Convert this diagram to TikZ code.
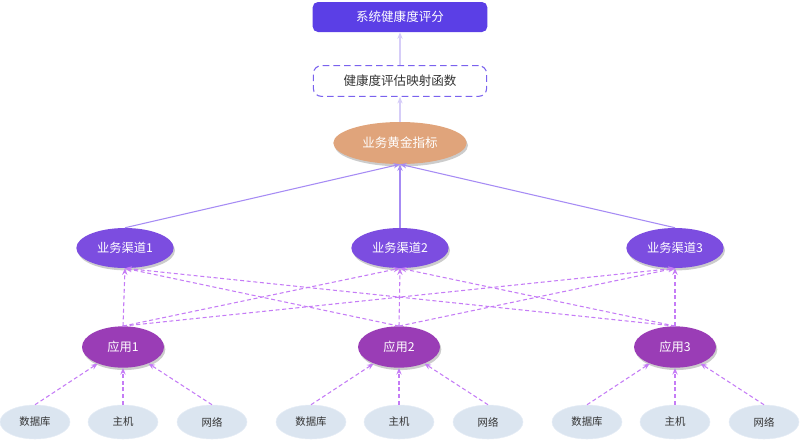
\documentclass[tikz,border=0pt]{standalone}
\usepackage{fontspec}
\newfontfamily\cjk{Noto Sans CJK SC}
\usepackage{tikz}
\usetikzlibrary{positioning,shapes,shadows,arrows.meta}

\definecolor{scoreviolet}{HTML}{5B3FE6}
\definecolor{chanviolet}{HTML}{7C4DE0}
\definecolor{apppurple}{HTML}{9A3DB6}
\definecolor{goldorange}{HTML}{E0A47B}
\definecolor{leafblue}{HTML}{DBE5F0}
\definecolor{leafedge}{HTML}{E6EDF6}
\definecolor{funcedge}{HTML}{7A62EE}
\definecolor{toparrow}{HTML}{D6CDF8}
\definecolor{solidarrow}{HTML}{A68BF4}
\definecolor{dasharrow}{HTML}{C57CF6}
\definecolor{darktext}{HTML}{333333}

\tikzset{
  scorebox/.style={fill=scoreviolet, rounded corners=4pt, minimum width=131pt, minimum height=22.5pt, text=white, font=\cjk\fontsize{9.4}{11}\selectfont},
  funcbox/.style={draw=funcedge, thick, dash pattern=on 5pt off 3pt, rounded corners=6pt, minimum width=130pt, minimum height=23pt, text=darktext, font=\cjk\fontsize{9.4}{11}\selectfont},
  goldnode/.style={ellipse, fill=goldorange, minimum width=100pt, minimum height=31.5pt, text=white, font=\cjk\fontsize{9.4}{11}\selectfont, drop shadow={shadow xshift=1pt, shadow yshift=-1.8pt, opacity=0.4}},
  channode/.style={ellipse, fill=chanviolet, minimum width=73pt, minimum height=30pt, text=white, font=\cjk\fontsize{9.2}{11}\selectfont, drop shadow={shadow xshift=1pt, shadow yshift=-1.8pt, opacity=0.4}},
  appnode/.style={ellipse, fill=apppurple, minimum width=61.5pt, minimum height=31pt, text=white, font=\cjk\fontsize{9.2}{11}\selectfont, drop shadow={shadow xshift=1pt, shadow yshift=-1.8pt, opacity=0.4}},
  leafnode/.style={ellipse, fill=leafblue, draw=leafedge, minimum width=52.5pt, minimum height=25.5pt, text=darktext, font=\cjk\fontsize{7.8}{9}\selectfont},
  uparrow/.style={draw=toparrow, thick, -{Stealth[length=5pt,width=4pt]}},
  goldarrow/.style={draw=solidarrow, thick, -{Stealth[length=5pt,width=4pt]}},
  linkarrow/.style={draw=dasharrow, thick, dash pattern=on 3pt off 2pt, -{Stealth[length=5pt,width=4pt]}}
}

\begin{document}
\begin{tikzpicture}[x=0.75pt, y=-0.75pt]
	\useasboundingbox (0,0) rectangle (800,440);
	% top of the tree
	\node[scorebox] (score) at (400, 17) {系统健康度评分};
	\node[funcbox] (func) at (400, 81) {健康度评估映射函数};
	\node[goldnode] (gold) at (400, 143) {业务黄金指标};
	% channels
	\node[channode] (c1) at (125, 248) {业务渠道1};
	\node[channode] (c2) at (400, 248) {业务渠道2};
	\node[channode] (c3) at (675, 248) {业务渠道3};
	% applications
	\node[appnode] (a1) at (123, 347) {应用1};
	\node[appnode] (a2) at (399, 347) {应用2};
	\node[appnode] (a3) at (675, 347) {应用3};
	% resources
	\node[leafnode] (d1) at (35, 422) {数据库};
	\node[leafnode] (h1) at (123, 422) {主机};
	\node[leafnode] (n1) at (212, 422) {网络};
	\node[leafnode] (d2) at (311, 422) {数据库};
	\node[leafnode] (h2) at (399, 422) {主机};
	\node[leafnode] (n2) at (488, 422) {网络};
	\node[leafnode] (d3) at (587, 422) {数据库};
	\node[leafnode] (h3) at (675, 422) {主机};
	\node[leafnode] (n3) at (764, 422) {网络};
	% arrows
	\draw[uparrow] (func.north) -- (score.south);
	\draw[uparrow] (gold.north) -- (func.south);
	\draw[goldarrow] (c1.north) -- (gold.south);
	\draw[goldarrow] (c2.north) -- (gold.south);
	\draw[goldarrow] (c3.north) -- (gold.south);
	\draw[linkarrow] (a1.north) -- (c1.south);
	\draw[linkarrow] (a1.north) -- (c2.south);
	\draw[linkarrow] (a1.north) -- (c3.south);
	\draw[linkarrow] (a2.north) -- (c1.south);
	\draw[linkarrow] (a2.north) -- (c2.south);
	\draw[linkarrow] (a2.north) -- (c3.south);
	\draw[linkarrow] (a3.north) -- (c1.south);
	\draw[linkarrow] (a3.north) -- (c2.south);
	\draw[linkarrow] (a3.north) -- (c3.south);
	\draw[linkarrow] (d1.north) -- (a1);
	\draw[linkarrow] (h1.north) -- (a1);
	\draw[linkarrow] (n1.north) -- (a1);
	\draw[linkarrow] (d2.north) -- (a2);
	\draw[linkarrow] (h2.north) -- (a2);
	\draw[linkarrow] (n2.north) -- (a2);
	\draw[linkarrow] (d3.north) -- (a3);
	\draw[linkarrow] (h3.north) -- (a3);
	\draw[linkarrow] (n3.north) -- (a3);
\end{tikzpicture}
\end{document}
